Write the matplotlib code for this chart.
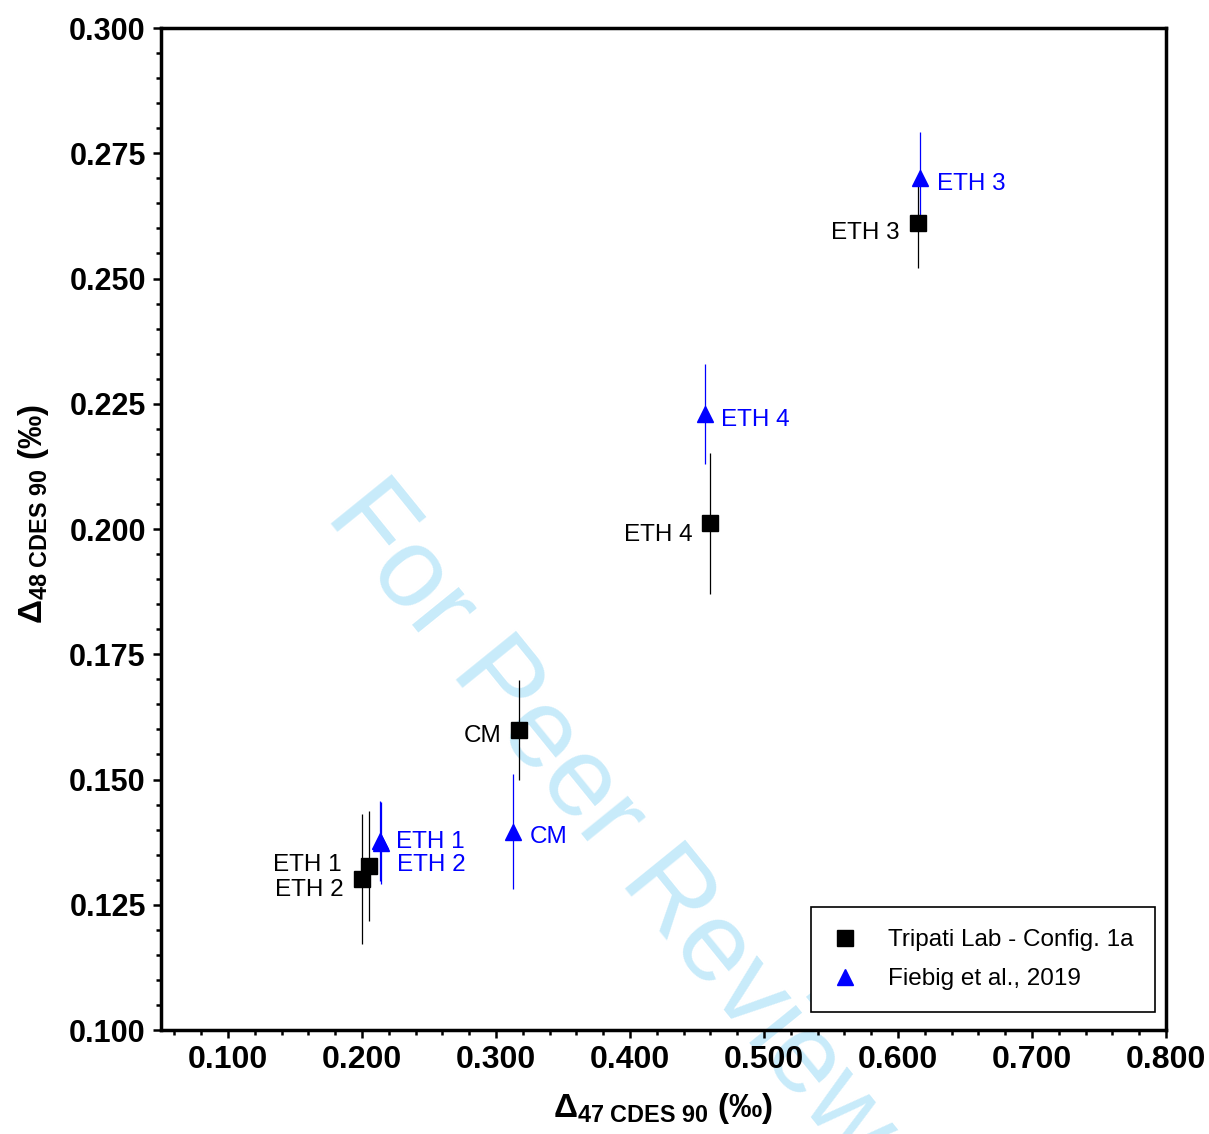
import matplotlib
matplotlib.use("Agg")
import matplotlib.pyplot as plt
from matplotlib.lines import Line2D
from matplotlib.ticker import MultipleLocator, FormatStrFormatter

# Clumped isotope standards: Tripati lab measurements vs. Fiebig et al. (2019)
sample_names = ["ETH 1", "ETH 2", "ETH 3", "ETH 4", "CM"]

tripati_d47 = [0.205, 0.200, 0.615, 0.460, 0.317]
tripati_d48 = [0.1327, 0.1301, 0.2611, 0.2011, 0.1599]
tripati_err = [0.011, 0.013, 0.009, 0.014, 0.010]

fiebig_d47 = [0.2137, 0.2142, 0.6165, 0.4557, 0.3130]
fiebig_d48 = [0.1377, 0.1374, 0.2700, 0.2229, 0.1396]
fiebig_err = [0.008, 0.0082, 0.0093, 0.010, 0.0115]

series_labels = ["Tripati Lab - Config. 1a", "Fiebig et al., 2019"]

# point-label offsets (points) so overlapping names stay readable
tripati_offsets = [(-19.4, -3.4), (-13.2, -12.1), (-13.0, -11.3), (-13.0, -12.8), (-12.7, -8.5)]
fiebig_offsets = [(11.5, -5.1), (11.5, -20.7), (12.0, -8.1), (11.5, -8.5), (11.5, -8.5)]

BLUE = "#0000ff"
WATERMARK = "#c8ebfa"

plt.rcParams.update({
    "font.family": ["Liberation Sans", "DejaVu Sans"],
    "mathtext.fontset": "custom",
    "mathtext.rm": "Liberation Sans",
    "mathtext.bf": "Liberation Sans:bold",
    "mathtext.it": "Liberation Sans:italic",
})

fig = plt.figure(figsize=(12.09, 11.34), dpi=100)
fig.patch.set_facecolor("white")
ax = fig.add_axes([0.1332, 0.0917, 0.8312, 0.8836])
ax.set_facecolor("none")

# watermark sits behind the axes (axes background is transparent)
fig.text(0.268, 0.545, "For Peer Review", fontsize=81, color=WATERMARK,
         rotation=-51, rotation_mode="anchor", ha="left", va="baseline", zorder=-1)

ax.errorbar(tripati_d47, tripati_d48, yerr=tripati_err, fmt="none",
            ecolor="black", elinewidth=0.9, capsize=0, zorder=2)
ax.errorbar(fiebig_d47, fiebig_d48, yerr=fiebig_err, fmt="none",
            ecolor=BLUE, elinewidth=0.9, capsize=0, zorder=2)
ax.plot(tripati_d47, tripati_d48, ls="none", marker="s", ms=12,
        color="black", zorder=3)
ax.plot(fiebig_d47, fiebig_d48, ls="none", marker="^", ms=12,
        color=BLUE, zorder=4)

for name, x, y, off in zip(sample_names, tripati_d47, tripati_d48, tripati_offsets):
    ax.annotate(name, (x, y), xytext=off, textcoords="offset points",
                ha="right", va="baseline", fontsize=17.5, color="black")
for name, x, y, off in zip(sample_names, fiebig_d47, fiebig_d48, fiebig_offsets):
    ax.annotate(name, (x, y), xytext=off, textcoords="offset points",
                ha="left", va="baseline", fontsize=17.5, color=BLUE)

ax.set_xlim(0.05, 0.8)
ax.set_ylim(0.1, 0.3)
ax.xaxis.set_major_locator(MultipleLocator(0.1))
ax.xaxis.set_minor_locator(MultipleLocator(0.02))
ax.yaxis.set_major_locator(MultipleLocator(0.025))
ax.yaxis.set_minor_locator(MultipleLocator(0.005))
ax.xaxis.set_major_formatter(FormatStrFormatter("%.3f"))
ax.yaxis.set_major_formatter(FormatStrFormatter("%.3f"))

for side in ["left", "bottom", "top", "right"]:
    ax.spines[side].set_linewidth(2.5)
ax.tick_params(which="major", direction="out", length=6, width=1.8, pad=5)
ax.tick_params(which="minor", direction="out", length=3.5, width=1.8)
ax.tick_params(top=False, right=False, which="both")
for lab in ax.get_xticklabels():
    lab.set_fontsize(23)
    lab.set_fontweight("bold")
for lab in ax.get_yticklabels():
    lab.set_fontsize(22)
    lab.set_fontweight("bold")

ax.set_xlabel(r"$\mathbf{Δ_{47\ CDES\ 90}\ (‰)}$", fontsize=24, labelpad=11)
ax.set_ylabel(r"$\mathbf{Δ_{48\ CDES\ 90}\ (‰)}$", fontsize=24, labelpad=13)
ax.yaxis.label.set_y(0.515)

handles = [
    Line2D([], [], ls="none", marker="s", ms=12, color="black"),
    Line2D([], [], ls="none", marker="^", ms=12, color=BLUE),
]
leg = ax.legend(handles, series_labels, loc="lower right",
                bbox_to_anchor=(0.989, 0.018), borderaxespad=0,
                fontsize=17.5, frameon=True, fancybox=False,
                edgecolor="black", framealpha=1, borderpad=0.9,
                labelspacing=0.7, handlelength=1.0, handletextpad=1.25)
leg.get_frame().set_linewidth(1.2)

fig.savefig("out.png", dpi=100, facecolor="white")
